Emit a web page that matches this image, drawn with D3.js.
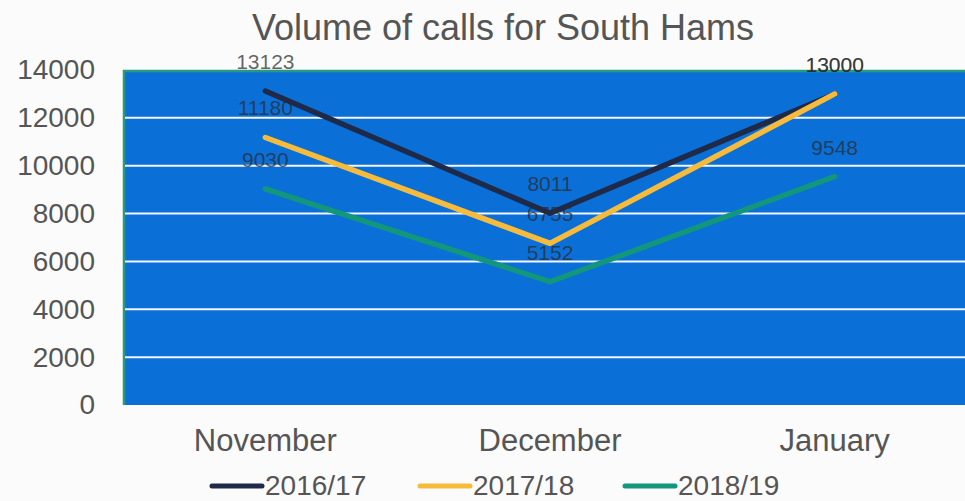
<!DOCTYPE html>
<html lang="en">
<head>
    <meta charset="UTF-8">
    <title>Volume of calls for South Hams</title>
    <script src="https://d3js.org/d3.v7.min.js"></script>
    <style>
        html, body {
            margin: 0;
            padding: 0;
            background: #fbfbfb;
        }
        svg {
            display: block;
            font-family: "Liberation Sans", Arial, sans-serif;
        }
    </style>
</head>
<body>
    <svg id="chart"></svg>

    <script>
        const months = ["November", "December", "January"];
        const seasons = ["2016/17", "2017/18", "2018/19"];
        const calls1617 = [13123, 8011, 13000];
        const calls1718 = [11180, 6755, 13000];
        const calls1819 = [9030, 5152, 9548];
        const yTicks = [0, 2000, 4000, 6000, 8000, 10000, 12000, 14000];

        const seriesColors = ["#1e2a48", "#f7bb3c", "#12967c"];
        const seriesValues = [calls1617, calls1718, calls1819];

        const width = 965, height = 501;
        const margin = { top: 70, right: -12, bottom: 96, left: 123 };
        const plotW = width - margin.left - margin.right;
        const plotH = height - margin.top - margin.bottom;

        const svg = d3.select("#chart")
            .attr("width", width)
            .attr("height", height);

        svg.append("text")
            .attr("x", 503)
            .attr("y", 40)
            .attr("text-anchor", "middle")
            .attr("font-size", "36px")
            .attr("fill", "#555")
            .text("Volume of calls for South Hams");

        const x = d3.scaleBand()
            .domain(months)
            .range([0, plotW]);

        const y = d3.scaleLinear()
            .domain([0, 14000])
            .range([plotH, 0]);

        const g = svg.append("g")
            .attr("transform", `translate(${margin.left},${margin.top})`);

        // plot area
        g.append("rect")
            .attr("x", 0)
            .attr("y", 0)
            .attr("width", plotW)
            .attr("height", plotH)
            .attr("fill", "#0b6fd8");

        g.append("path")
            .attr("d", `M1,${plotH} V1 H${plotW}`)
            .attr("fill", "none")
            .attr("stroke", "#2a9a7c")
            .attr("stroke-width", 2.5);

        // grid lines
        g.selectAll(".grid")
            .data(yTicks.filter(d => d > 0 && d < 14000))
            .enter()
            .append("line")
            .attr("x1", 2)
            .attr("x2", plotW)
            .attr("y1", d => y(d))
            .attr("y2", d => y(d))
            .attr("stroke", "#f4f6fa")
            .attr("stroke-width", 2);

        // y axis labels
        const yAxis = g.append("g")
            .call(d3.axisLeft(y).tickValues(yTicks).tickFormat(d3.format("d")).tickSize(0).tickPadding(28));
        yAxis.select(".domain").remove();
        yAxis.selectAll("text")
            .attr("font-size", "28px")
            .attr("font-family", "'Liberation Sans', Arial, sans-serif")
            .attr("fill", "#555");

        // x axis labels
        const xAxis = g.append("g")
            .attr("transform", `translate(0,${plotH})`)
            .call(d3.axisBottom(x).tickSize(0).tickPadding(24));
        xAxis.select(".domain").remove();
        xAxis.selectAll("text")
            .attr("font-size", "31px")
            .attr("font-family", "'Liberation Sans', Arial, sans-serif")
            .attr("fill", "#555");

        const cx = m => x(m) + x.bandwidth() / 2;

        const line = d3.line()
            .x((d, i) => cx(months[i]))
            .y(d => y(d));

        seriesValues.forEach((vals, s) => {
            g.append("path")
                .datum(vals)
                .attr("d", line)
                .attr("fill", "none")
                .attr("stroke", seriesColors[s])
                .attr("stroke-width", 5.5)
                .attr("stroke-linecap", "round")
                .attr("stroke-linejoin", "round");
        });

        // data labels
        seriesValues.forEach((vals) => {
            g.selectAll(null)
                .data(vals)
                .enter()
                .append("text")
                .attr("x", (d, i) => cx(months[i]))
                .attr("y", d => y(d) - 22)
                .attr("text-anchor", "middle")
                .attr("font-size", "21px")
                .attr("fill", "#2a2a2a")
                .attr("fill-opacity", 0.72)
                .text(d => d);
        });

        // legend
        const legendX = [210, 418, 623];
        const legend = svg.append("g")
            .attr("transform", `translate(0,486)`);
        seasons.forEach((s, i) => {
            legend.append("line")
                .attr("x1", legendX[i] + 2)
                .attr("x2", legendX[i] + 52)
                .attr("y1", 0)
                .attr("y2", 0)
                .attr("stroke", seriesColors[i])
                .attr("stroke-width", 5)
                .attr("stroke-linecap", "round");
            legend.append("text")
                .attr("x", legendX[i] + 55)
                .attr("y", 9)
                .attr("font-size", "28px")
                .attr("fill", "#555")
                .text(s);
        });
    </script>
</body>
</html>
